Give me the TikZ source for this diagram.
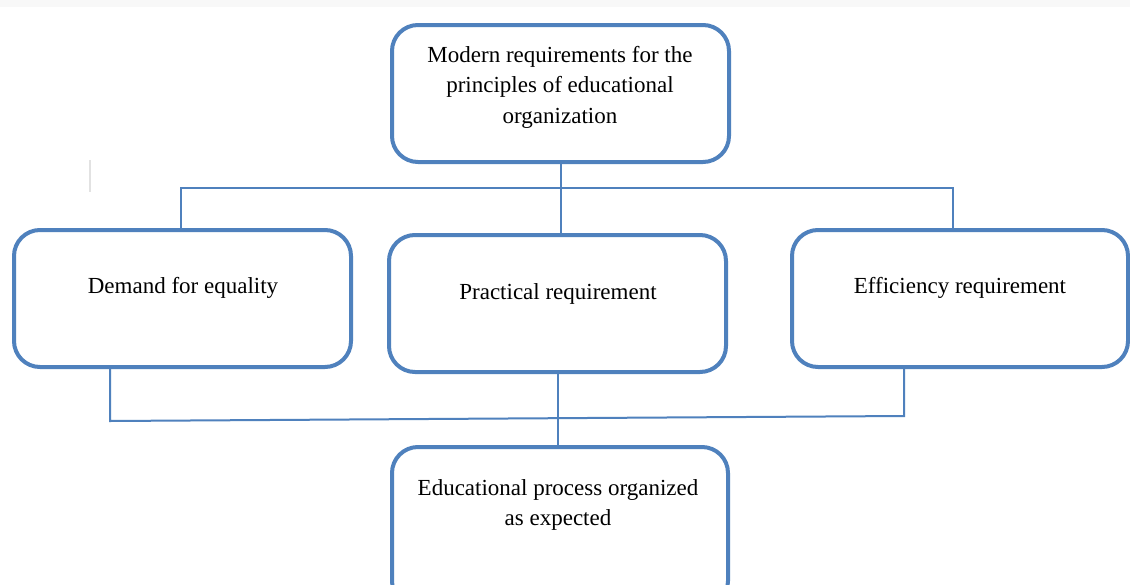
\documentclass[tikz,border=0pt]{standalone}
\usepackage{fontspec}
\setmainfont{Liberation Serif}
\definecolor{boxblue}{HTML}{4F81BD}
\definecolor{stripgray}{HTML}{F8F8F8}
\definecolor{markgray}{HTML}{E2E2E2}
\begin{document}
\begin{tikzpicture}[x=1pt,y=-1pt,
  roundbox/.style={draw=boxblue, line width=4pt, rounded corners=26pt, fill=white, inner sep=0pt},
  lbl/.style={font=\fontsize{23}{30.5}\selectfont, align=center, inner sep=0pt, text=black},
  link/.style={draw=boxblue, line width=2pt}]
\clip (0,0) rectangle (1130,584);
\fill[white] (0,0) rectangle (1130,584);
\fill[stripgray] (0,0) rectangle (1130,7);
\draw[markgray, line width=2pt] (90,160) -- (90,192);
% boxes
\node[roundbox, minimum width=337pt, minimum height=137pt] (top) at (560.5,93.5) {};
\node[roundbox, minimum width=337pt, minimum height=137pt] (left) at (182.5,298.5) {};
\node[roundbox, minimum width=337pt, minimum height=137pt] (mid) at (557.5,303.5) {};
\node[roundbox, minimum width=336pt, minimum height=137pt] (right) at (960,298.5) {};
\node[roundbox, minimum width=336pt, minimum height=160pt] (bot) at (560,527) {};
% texts
\node[lbl] (toptext) at (560,87) {Modern requirements for the\\principles of educational\\organization};
\node[lbl, anchor=base] (lefttext) at (183,293) {Demand for equality};
\node[lbl, anchor=base] (midtext) at (558,299) {Practical requirement};
\node[lbl, anchor=base] (righttext) at (960,293) {Efficiency requirement};
\node[lbl] (bottext) at (558,505) {Educational process organized\\as expected};
% connectors
\coordinate (busL) at (181,188);
\coordinate (busR) at (953,188);
\coordinate (joinL) at (110,421);
\coordinate (joinR) at (904,416);
\coordinate (joinM) at (558,418.5);
\draw[link] (top.south) -- (top.south |- mid.north);
\draw[link] (left.north -| busL) -- (busL) -- (busR) -- (right.north -| busR);
\draw[link] (left.south -| joinL) -- (joinL) -- (joinR) -- (right.south -| joinR);
\draw[link] (mid.south -| joinM) -- (joinM) -- (bot.north -| joinM);
\end{tikzpicture}
\end{document}
